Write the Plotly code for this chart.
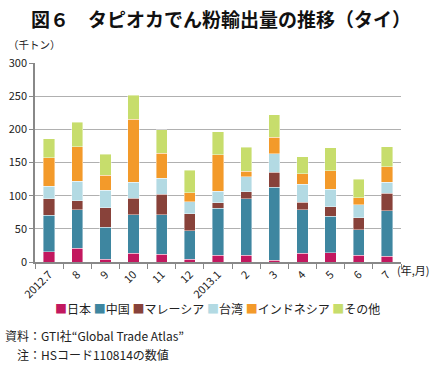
import plotly.graph_objects as go

categories = ["2012.7", "8", "9", "10", "11", "12", "2013.1", "2", "3", "4", "5", "6", "7"]
japan = [15.5, 21, 4.5, 13.5, 11.5, 4.5, 10.5, 10, 3, 13, 14, 10, 8.5]
china = [55, 57.5, 48, 57.5, 59.5, 42.5, 70.5, 85, 109.5, 65.5, 55, 38.5, 68.5]
malaysia = [25, 14, 29.5, 25, 31, 25.5, 8.5, 11, 23, 11.5, 14, 18.5, 27]
taiwan = [19, 29, 26.5, 24.5, 24.5, 18, 17, 22.5, 28, 27, 27, 19, 16.5]
indonesia = [42.5, 52, 22.5, 95, 37.5, 14, 55, 8.5, 24.5, 16, 27.5, 11, 23]
other = [29, 37, 31.5, 36, 35.5, 34, 34.5, 36, 34, 26, 35, 27.5, 30.5]

series = [
    ("日本", japan, "#c2185f"),
    ("中国", china, "#3e86a0"),
    ("マレーシア", malaysia, "#88423a"),
    ("台湾", taiwan, "#b3dae3"),
    ("インドネシア", indonesia, "#f39a2a"),
    ("その他", other, "#c7dd6c"),
]

JP = "Noto Sans CJK JP"
fig = go.Figure()
for name, vals, col in series:
    fig.add_trace(go.Bar(
        x=categories, y=vals, name=name,
        marker=dict(color=col, line=dict(color="rgba(255,255,255,0.7)", width=0.6)),
    ))

W, H = 435, 369
# plot area in reference pixels: x 35..401, y 62.5..262.5
L, T = 35, 62.5
R = W - 401
B = H - 262.5
pw, ph = W - L - R, H - T - B

def px(x):
    return (x - L) / pw

def py(y):
    return (H - B - y) / ph

legend_text = "".join(
    f"<span style='color:{col}'>■</span>{name}" + ("" if i == len(series) - 1 else " ")
    for i, (name, vals, col) in enumerate(series)
)

fig.update_layout(
    width=W, height=H, barmode="stack", bargap=0.6,
    margin=dict(l=L, r=R, t=T, b=B, autoexpand=False),
    paper_bgcolor="white", plot_bgcolor="white",
    font=dict(family=JP, size=11, color="#222"),
    showlegend=False,
    xaxis=dict(type="category", tickangle=-45, tickson="boundaries", ticks="outside",
               ticklen=5, tickcolor="#888", showline=True, linecolor="#888", linewidth=1.5,
               tickfont=dict(family=JP, size=11, color="#222"), showgrid=False, automargin=False),
    yaxis=dict(range=[0, 300], dtick=50, showgrid=True, gridcolor="#b0b0b0", gridwidth=1,
               showline=True, linecolor="#888", linewidth=1.5, ticks="outside", ticklen=4,
               tickcolor="#888", tickfont=dict(family=JP, size=11, color="#222"), zeroline=False,
               automargin=False),
    annotations=[
        dict(text="<b>図６　タピオカでん粉輸出量の推移（タイ）</b>", x=px(221), y=py(18), xref="paper", yref="paper",
             xanchor="center", yanchor="middle", showarrow=False,
             font=dict(family=JP, size=19, color="#111")),
        dict(text="（千トン）", x=px(6), y=py(44), xref="paper", yref="paper",
             xanchor="left", yanchor="middle", showarrow=False, font=dict(family=JP, size=10.5)),
        dict(text="(年,月)", x=px(432), y=py(271), xref="paper", yref="paper",
             xanchor="right", yanchor="middle", showarrow=False, font=dict(family=JP, size=11)),
        dict(text=legend_text, x=px(217), y=py(309), xref="paper", yref="paper",
             xanchor="center", yanchor="middle", showarrow=False, font=dict(family=JP, size=12)),
        dict(text="資料：GTI社“Global Trade Atlas”", x=px(3), y=py(336), xref="paper", yref="paper",
             xanchor="left", yanchor="middle", showarrow=False, font=dict(family=JP, size=12)),
        dict(text="注：HSコード110814の数値", x=px(15), y=py(355), xref="paper", yref="paper",
             xanchor="left", yanchor="middle", showarrow=False, font=dict(family=JP, size=12)),
    ],
)

fig.write_html("out.html", config={"displayModeBar": False},
               post_script="document.body.style.margin='0';")
